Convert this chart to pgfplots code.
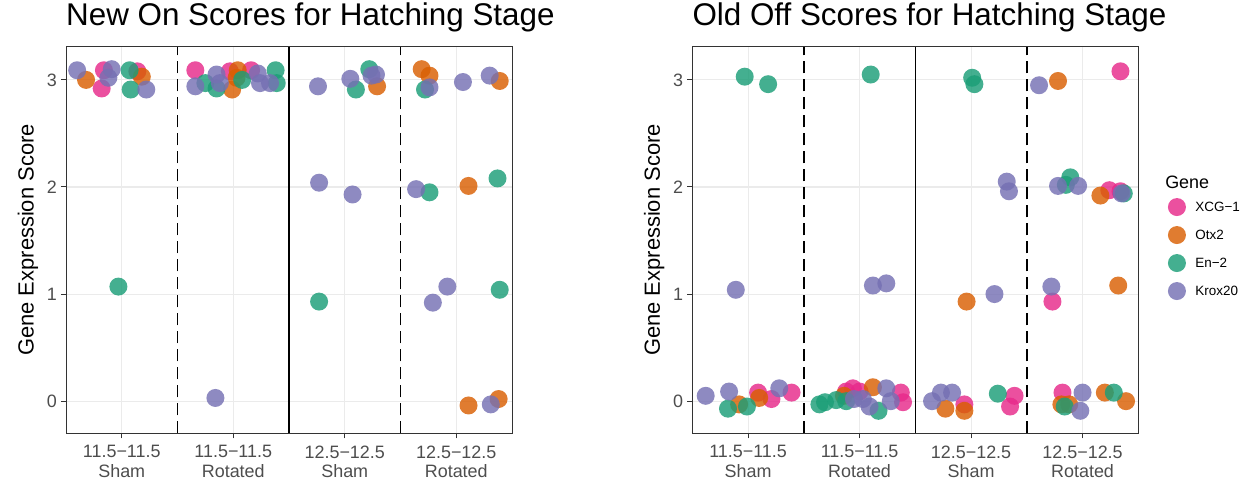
\documentclass[border=0pt]{standalone}
\usepackage{fontspec}
\setmainfont{Liberation Sans}
\usepackage{pgfplots}
\pgfplotsset{compat=1.18}

\definecolor{cXCG}{HTML}{E7298A}
\definecolor{cOtx}{HTML}{D95F02}
\definecolor{cEn}{HTML}{1B9E77}
\definecolor{cKrox}{HTML}{7570B3}
\definecolor{gridc}{HTML}{EBEBEB}
\definecolor{tickc}{HTML}{4D4D4D}
\definecolor{framec}{HTML}{333333}

\pgfplotsset{
  panel/.style={
    scale only axis, width=446bp, height=386.6bp,
    xmin=0.5, xmax=4.5, ymin=-0.3, ymax=3.31,
    xtick={1,2,3,4},
    xticklabels={{11.5−11.5\\Sham},{11.5−11.5\\Rotated},{12.5−12.5\\Sham},{12.5−12.5\\Rotated}},
    ytick={0,1,2,3},
    grid=major, major grid style={gridc, line width=1.1bp},
    axis line style={framec, line width=1bp},
    tick style={framec, line width=1bp},
    tick align=outside, major tick length=5bp,
    tick pos=left,
    /pgf/number format/assume math mode=true,
    xticklabel style={align=center, font=\fontsize{18}{19.5}\selectfont, text=tickc, inner sep=0pt, yshift=-7bp},
    yticklabel style={font=\fontsize{18}{20}\selectfont, text=tickc, inner sep=0pt, xshift=-4bp},
    ylabel={Gene Expression Score},
    every axis y label/.style={at={(rel axis cs:0,0.5)}, rotate=90, anchor=center, yshift=38bp, font=\fontsize{22}{24}\selectfont},
    title style={at={(rel axis cs:0,1)}, anchor=base west, yshift=15bp, font=\fontsize{31.5}{36}\selectfont, inner sep=0pt},
    clip mode=individual,
  },
  pts/.style={only marks, color=#1, mark=*, mark size=9bp, mark options={fill=#1, draw=#1, fill opacity=0.82, draw opacity=0}},
  sep/.style={forget plot, black, line width=1.6bp},
  dsep/.style={forget plot, black, line width=1.6bp, dash pattern=on 12bp off 6bp},
}

\begin{document}
\begin{tikzpicture}
\useasboundingbox (0,0) rectangle (1252bp,482bp);

\begin{axis}[panel, at={(66bp,48.7bp)}, anchor=south west,
  title={New On Scores for Hatching Stage}]
\addplot[dsep] coordinates {(1.5,-0.3) (1.5,3.31)};
\addplot[sep] coordinates {(2.5,-0.3) (2.5,3.31)};
\addplot[dsep] coordinates {(3.5,-0.3) (3.5,3.31)};
% XCG-1
\addplot[pts=cXCG] coordinates {
(0.82,2.92) (0.84,3.09) (1.14,3.08) (1.66,3.09) (1.97,3.08) (2.16,3.09)};
% Otx2
\addplot[pts=cOtx] coordinates {
(0.68,3.00) (1.18,3.03) (1.99,2.91) (2.03,3.02) (2.04,3.09) (3.29,2.94)
(3.69,3.10) (3.76,3.04) (4.39,2.99) (4.11,2.01) (4.11,-0.04) (4.38,0.02)};
% En-2
\addplot[pts=cEn] coordinates {
(0.97,1.07) (1.07,3.09) (1.08,2.91) (1.75,2.97) (1.85,2.92) (2.08,3.00)
(2.38,3.09) (2.39,2.97) (3.22,3.10) (3.10,2.91) (2.77,0.93) (3.72,2.91)
(3.76,1.95) (4.37,2.08) (4.39,1.04)};
% Krox20
\addplot[pts=cKrox] coordinates {
(0.60,3.09) (0.91,3.10) (0.88,3.02) (1.22,2.91) (1.66,2.94) (1.85,3.05)
(1.88,2.97) (2.22,3.06) (2.24,2.97) (2.33,2.97) (1.84,0.03) (2.76,2.94)
(3.05,3.01) (3.24,3.04) (3.28,3.05) (2.77,2.04) (3.07,1.93) (3.76,2.93)
(4.06,2.98) (4.30,3.04) (3.64,1.98) (3.92,1.07) (3.79,0.92) (4.31,-0.03)};
\end{axis}

\begin{axis}[panel, at={(692.3bp,48.7bp)}, anchor=south west,
  title={Old Off Scores for Hatching Stage},
  legend style={draw=none, fill=none, at={(rel axis cs:1.066,0.609)}, anchor=north west,
    font=\fontsize{13.5}{15}\selectfont, row sep=10bp, column sep=8bp, inner sep=0pt,
    nodes={inner sep=1.5bp}},
  legend cell align=left,
  legend image code/.code={\draw[#1] plot coordinates {(10bp,0bp)};},
  ]
\addplot[dsep] coordinates {(1.5,-0.3) (1.5,3.31)};
\addplot[sep] coordinates {(2.5,-0.3) (2.5,3.31)};
\addplot[dsep] coordinates {(3.5,-0.3) (3.5,3.31)};
% XCG-1
\addplot[pts=cXCG] coordinates {
(4.34,3.08) (4.24,1.97) (4.34,1.96) (3.73,0.93) (1.09,0.08) (1.21,0.02)
(1.39,0.08) (1.88,0.09) (1.94,0.12) (2.00,0.09) (2.37,0.08) (2.39,-0.01)
(2.94,-0.03) (3.39,0.05) (3.35,-0.05) (3.82,0.08)};
\addlegendentry{XCG−1}
% Otx2
\addplot[pts=cOtx] coordinates {
(3.78,2.99) (4.16,1.92) (2.96,0.93) (4.32,1.08) (0.92,-0.03) (1.10,0.03)
(1.86,0.05) (2.12,0.13) (2.77,-0.07) (2.94,-0.09) (3.81,-0.03) (3.88,-0.03)
(4.20,0.08) (4.39,0.00)};
\addlegendentry{Otx2}
% En-2
\addplot[pts=cEn] coordinates {
(0.97,3.03) (1.18,2.96) (2.10,3.05) (3.01,3.02) (3.03,2.96) (3.89,2.09)
(3.85,2.02) (4.37,1.94) (0.82,-0.07) (0.99,-0.05) (1.64,-0.03) (1.69,-0.01)
(1.79,0.01) (1.88,0.00) (2.17,-0.09) (3.24,0.07) (3.84,-0.05) (4.28,0.08)};
\addlegendentry{En−2}
% Krox20
\addplot[pts=cKrox] coordinates {
(3.61,2.95) (3.32,2.05) (3.34,1.96) (3.78,2.01) (3.96,2.01) (4.35,1.94)
(0.89,1.04) (2.12,1.08) (2.24,1.10) (3.21,1.00) (3.72,1.07) (0.62,0.05)
(0.83,0.09) (1.28,0.12) (1.95,0.02) (2.03,0.02) (2.09,-0.05) (2.24,0.12)
(2.28,0.00) (2.65,0.00) (2.73,0.08) (2.83,0.08) (4.00,0.08) (3.98,-0.09)};
\addlegendentry{Krox20}
\node[anchor=base west, font=\fontsize{18}{20}\selectfont, inner sep=0pt]
  at (rel axis cs:1.06,0.632) {Gene};
\end{axis}
\end{tikzpicture}
\end{document}
